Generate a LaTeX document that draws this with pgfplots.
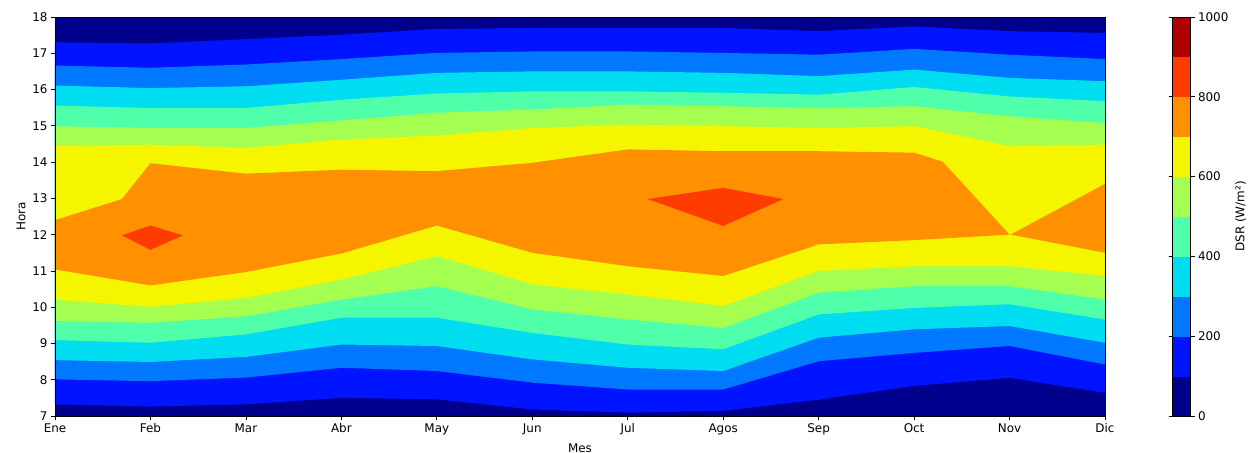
\documentclass[border=0pt]{standalone}
\usepackage{fontspec}
\setmainfont{DejaVu Sans}
\usepackage{pgfplots}
\pgfplotsset{compat=1.18}
\newcommand\fs{\fontsize{12}{14.4}\selectfont}

\definecolor{c0}{RGB}{0,0,140}
\definecolor{c1}{RGB}{0,20,255}
\definecolor{c2}{RGB}{0,120,255}
\definecolor{c3}{RGB}{0,220,240}
\definecolor{c4}{RGB}{80,255,170}
\definecolor{c5}{RGB}{165,255,80}
\definecolor{c6}{RGB}{245,245,0}
\definecolor{c7}{RGB}{255,145,0}
\definecolor{c8}{RGB}{255,60,0}
\definecolor{c9}{RGB}{175,0,0}

\pgfplotsset{
  colormap={dsr}{
    color=(c0) color=(c1) color=(c2) color=(c3) color=(c4)
    color=(c5) color=(c6) color=(c7) color=(c8) color=(c9)
  }
}

\begin{document}
\begin{tikzpicture}
\useasboundingbox (-55bp,-37bp) rectangle (1194bp,416bp);
\begin{axis}[
  scale only axis,
  width=1050bp, height=399bp,
  xmin=0, xmax=11, ymin=7, ymax=18,
  xtick={0,...,11},
  xticklabels={Ene,Feb,Mar,Abr,May,Jun,Jul,Agos,Sep,Oct,Nov,Dic},
  ytick={7,...,18},
  tick align=outside,
  tick pos=left,
  major tick length=4bp,
  tick style={black, line width=0.7bp},
  axis line style={black, line width=0.8bp},
  tick label style={font=\fs},
  label style={font=\fs},
  xlabel={Mes},
  xlabel style={yshift=-2bp},
  ylabel={Hora},
  axis on top,
  axis background/.style={fill=c0},
  colormap name=dsr,
  colormap access=piecewise constant,
  point meta min=0, point meta max=1000,
  /pgf/number format/assume math mode=true,
  /pgf/number format/1000 sep={},
  colorbar,
  colorbar style={
    at={(parent axis.north east)}, anchor=north west, xshift=59bp,
    scale only axis,
    width=18bp, height=399bp,
    colormap access=piecewise constant,
    ytick={0,200,...,1000},
    tick align=outside,
    major tick length=4bp,
    tick style={black, line width=0.7bp},
    axis line style={black, line width=0.8bp},
    tick label style={font=\fs},
    ylabel={DSR (W/m²)},
    ylabel style={font=\fs},
    /pgf/number format/assume math mode=true,
    /pgf/number format/1000 sep={},
  },
  every axis plot/.append style={draw=none, mark=none},
]
% Filled contour bands: hour at which DSR crosses each level, per month
% (lower crossing Ene..Dic, then upper crossing Dic..Ene)
% >= 100
\addplot[fill=c1] coordinates {
 (0,7.32)(1,7.26)(2,7.32)(3,7.50)(4,7.46)(5,7.18)(6,7.09)(7,7.14)(8,7.45)(9,7.83)(10,8.05)(11,7.64)
 (11,17.56)(10,17.61)(9,17.74)(8,17.61)(7,17.70)(6,17.70)(5,17.70)(4,17.67)(3,17.51)(2,17.39)(1,17.27)(0,17.30)};
% >= 200
\addplot[fill=c2] coordinates {
 (0,8.01)(1,7.96)(2,8.06)(3,8.33)(4,8.24)(5,7.92)(6,7.73)(7,7.73)(8,8.51)(9,8.74)(10,8.93)(11,8.42)
 (11,16.84)(10,16.96)(9,17.12)(8,16.96)(7,17.01)(6,17.05)(5,17.05)(4,17.01)(3,16.84)(2,16.69)(1,16.60)(0,16.66)};
% >= 300
\addplot[fill=c3] coordinates {
 (0,8.54)(1,8.49)(2,8.63)(3,8.97)(4,8.93)(5,8.56)(6,8.33)(7,8.24)(8,9.16)(9,9.39)(10,9.48)(11,9.02)
 (11,16.23)(10,16.32)(9,16.55)(8,16.37)(7,16.46)(6,16.50)(5,16.50)(4,16.46)(3,16.27)(2,16.09)(1,16.04)(0,16.11)};
% >= 400
\addplot[fill=c4] coordinates {
 (0,9.09)(1,9.02)(2,9.25)(3,9.71)(4,9.71)(5,9.29)(6,8.97)(7,8.84)(8,9.80)(9,9.98)(10,10.08)(11,9.66)
 (11,15.68)(10,15.81)(9,16.07)(8,15.86)(7,15.91)(6,15.95)(5,15.95)(4,15.89)(3,15.72)(2,15.49)(1,15.49)(0,15.56)};
% >= 500
\addplot[fill=c5] coordinates {
 (0,9.62)(1,9.57)(2,9.75)(3,10.21)(4,10.58)(5,9.94)(6,9.66)(7,9.43)(8,10.40)(9,10.58)(10,10.58)(11,10.21)
 (11,15.08)(10,15.26)(9,15.54)(8,15.49)(7,15.54)(6,15.58)(5,15.45)(4,15.36)(3,15.15)(2,14.94)(1,14.94)(0,14.99)};
% >= 600
\addplot[fill=c6] coordinates {
 (0,10.21)(1,10.01)(2,10.26)(3,10.76)(4,11.41)(5,10.63)(6,10.35)(7,10.03)(8,11.00)(9,11.13)(10,11.13)(11,10.86)
 (11,14.48)(10,14.44)(9,14.99)(8,14.94)(7,14.99)(6,15.03)(5,14.94)(4,14.73)(3,14.62)(2,14.39)(1,14.48)(0,14.44)};
% >= 700 (main region and the wedge after Nov)
\addplot[fill=c7] coordinates {
 (0,11.04)(1,10.60)(2,10.97)(3,11.48)(4,12.25)(5,11.50)(6,11.13)(7,10.86)(8,11.73)(9,11.85)(10,12.0)
 (9.30,14.01)(9,14.26)(8,14.30)(7,14.30)(6,14.35)(5,13.98)(4,13.75)(3,13.79)(2,13.68)(1,13.97)(0.70,12.98)(0,12.40)};
\addplot[fill=c7] coordinates {(10.01,12.0)(11,13.40)(11,11.50)};
% >= 800
\addplot[fill=c8] coordinates {(0.70,11.98)(1,12.25)(1.34,11.98)(1,11.58)};
\addplot[fill=c8] coordinates {(6.21,12.98)(7,13.29)(7.63,12.98)(7,12.24)};
\end{axis}
\end{tikzpicture}
\end{document}
